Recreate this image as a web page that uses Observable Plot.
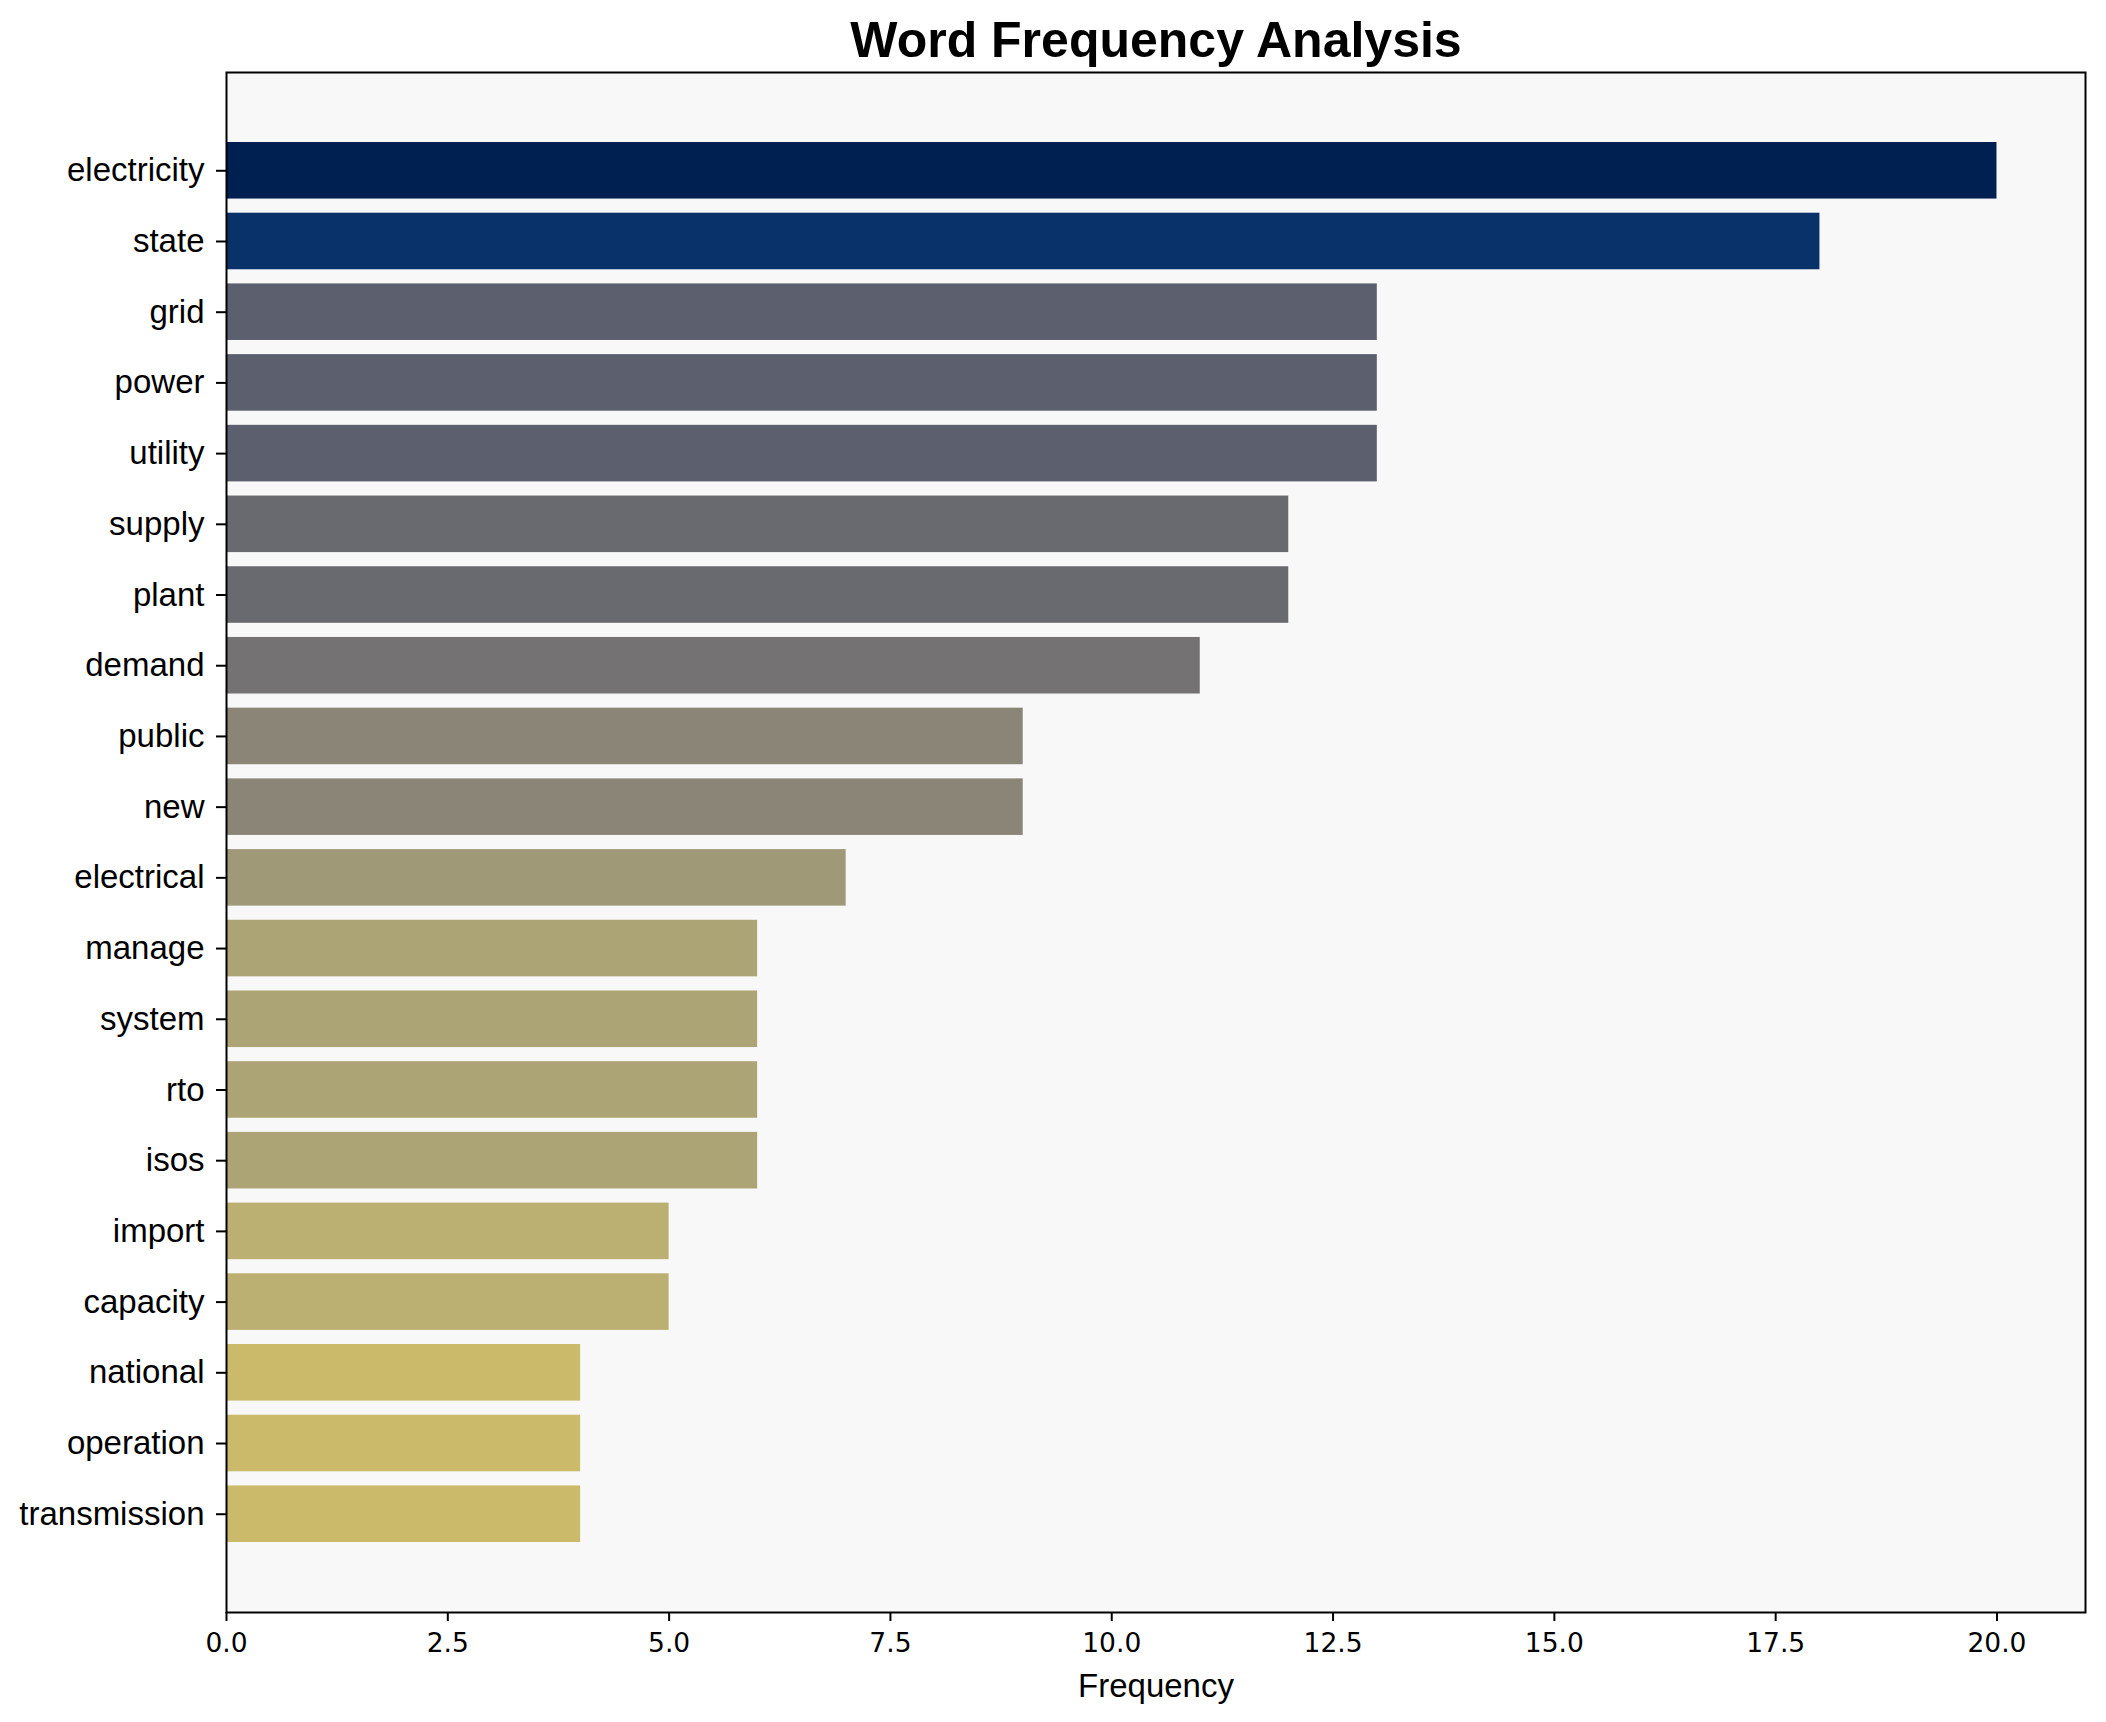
<!DOCTYPE html>
<html><head><meta charset="utf-8">
<script src="https://cdn.jsdelivr.net/npm/d3@7"></script>
<script src="https://cdn.jsdelivr.net/npm/@observablehq/plot@0.6"></script>
<style>body{margin:0;background:#fff}</style>
</head><body><div id="chart"></div>
<script>
const words = ["electricity","state","grid","power","utility","supply","plant","demand","public","new","electrical","manage","system","rto","isos","import","capacity","national","operation","transmission"];
const counts = [20,18,13,13,13,12,12,11,9,9,7,6,6,6,6,5,5,4,4,4];
const xTicks = [0,2.5,5,7.5,10,12.5,15,17.5,20];
const titleText = "Word Frequency Analysis";
const xLabel = "Frequency";
const data = words.map((w,i)=>({word:w,count:counts[i]}));
const chart = Plot.plot({
  width: 2106, height: 1722,
  marginLeft: 226, marginRight: 21, marginTop: 72, marginBottom: 110,
  style: {background: "#fff", overflow: "visible", color: "#000"},
  x: {domain:[0,21], label:null},
  y: {domain: words, paddingInner: 0.2, paddingOuter: 0.99, round: false, label:null},
  color: {type:"linear", scheme:"cividis", domain:[0,20], reverse:true},
  marks: [
    Plot.frame({fill:"#f8f8f8", stroke:"none"}),
    Plot.barX(data, {y:"word", x:"count", fill:"count"}),
    Plot.frame({stroke:"#000", strokeWidth:2}),
    Plot.axisX({ticks:xTicks, tickFormat: d=>d.toFixed(1), tickSize:9, tickPadding:12, fontSize:26.5, fontFamily:"DejaVu Sans", strokeWidth:2, label:null}),
    Plot.axisY({tickSize:10, tickPadding:12, fontSize:33, fontFamily:"Liberation Sans", strokeWidth:2, label:null}),
    Plot.text([xLabel], {frameAnchor:"bottom", lineAnchor:"top", dy:61, fontSize:33, fontFamily:"Liberation Sans", fill:"#000"}),
    Plot.text([titleText], {frameAnchor:"top", lineAnchor:"top", dy:-51, fontSize:50, fontWeight:"bold", fontFamily:"Liberation Sans", fill:"#000"})
  ]
});
document.getElementById("chart").append(chart);
</script>
</body></html>
